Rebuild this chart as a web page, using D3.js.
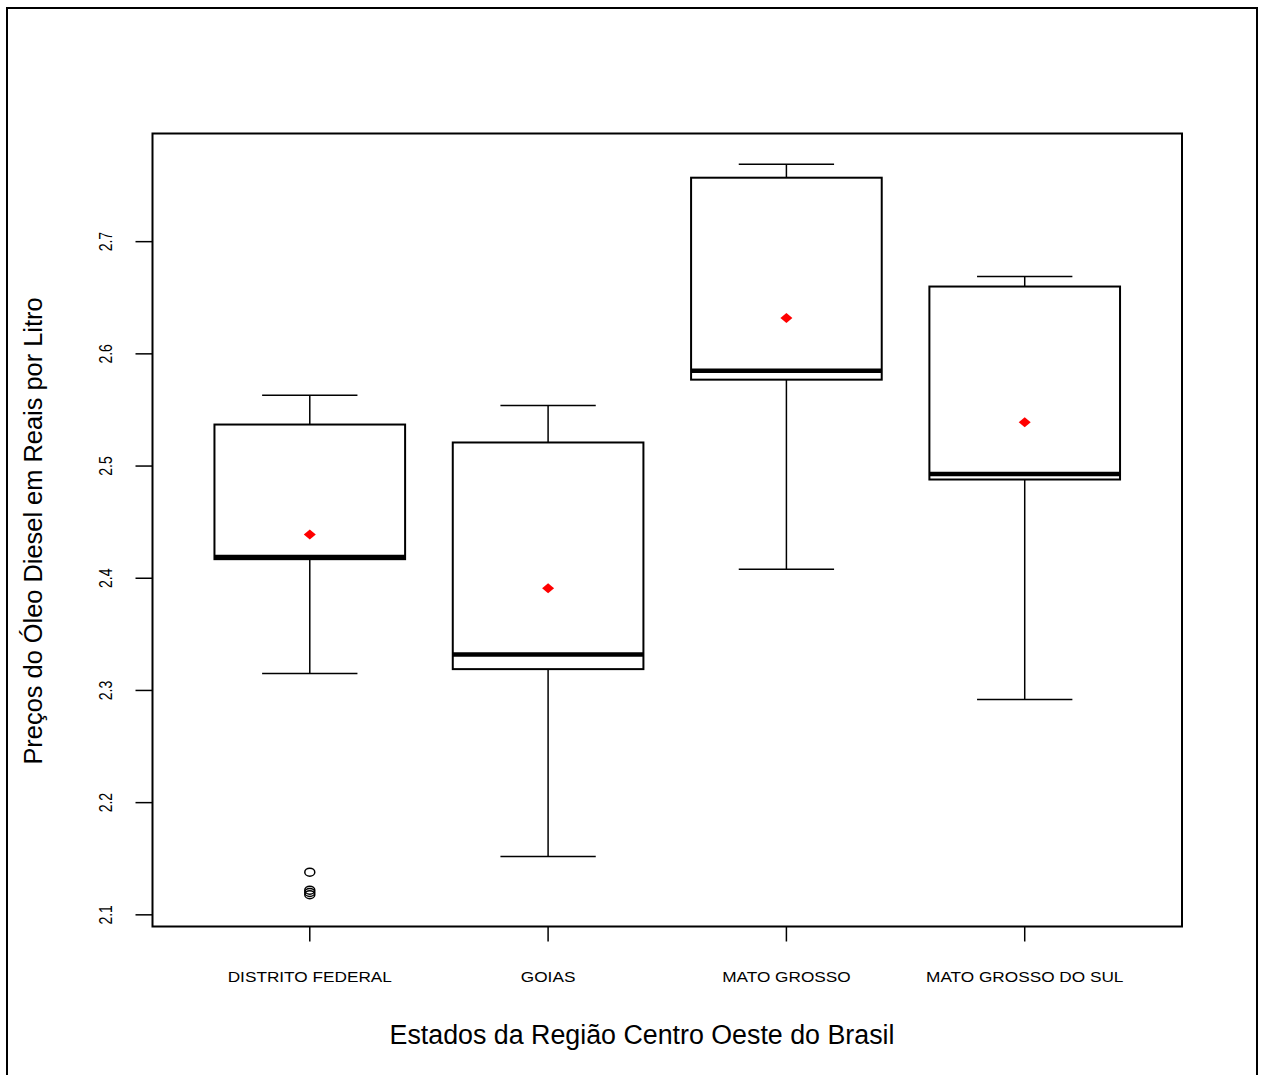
<!DOCTYPE html>
<html>
<head>
<meta charset="utf-8">
<script src="https://cdn.jsdelivr.net/npm/d3@7"></script>
<style>
  html, body { margin: 0; padding: 0; background: #fff; }
  svg { display: block; }
  text { font-family: "Liberation Sans", Arial, sans-serif; fill: #000; }
</style>
</head>
<body>
<script>
// Diesel price distribution per state (R$ per litre)
const categories = ["DISTRITO FEDERAL", "GOIAS", "MATO GROSSO", "MATO GROSSO DO SUL"];
const whiskerLow  = [2.315, 2.152, 2.408, 2.292];
const q1          = [2.417, 2.319, 2.577, 2.488];
const medians     = [2.419, 2.332, 2.585, 2.493];
const q3          = [2.537, 2.521, 2.757, 2.660];
const whiskerHigh = [2.563, 2.554, 2.769, 2.669];
const means       = [2.439, 2.391, 2.632, 2.539];
const outliers    = [[2.138, 2.122, 2.120, 2.118], [], [], []];
const yTicks      = [2.1, 2.2, 2.3, 2.4, 2.5, 2.6, 2.7];
const yTickLabels = ["2.1", "2.2", "2.3", "2.4", "2.5", "2.6", "2.7"];
const xTitle = "Estados da Região Centro Oeste do Brasil";
const yTitle = "Preços do Óleo Diesel em Reais por Litro";

const W = 1263, H = 1075;
const plot = { left: 152.5, right: 1182, top: 133.5, bottom: 926.5 };

const svg = d3.select("body").append("svg").attr("width", W).attr("height", H);

// outer figure frame
svg.append("rect")
  .attr("x", 7).attr("y", 8).attr("width", 1250).attr("height", 1080)
  .attr("fill", "none").attr("stroke", "#000").attr("stroke-width", 2);

const x = d3.scaleLinear().domain([0.34, 4.66]).range([plot.left, plot.right]);
const y = d3.scaleLinear().domain([2.0896, 2.7964]).range([plot.bottom, plot.top]);

const boxHalf = x(0.4) - x(0);
const capHalf = boxHalf / 2;

const rows = categories.map((c, i) => ({
  name: c, pos: i + 1,
  lo: whiskerLow[i], q1: q1[i], med: medians[i], q3: q3[i], hi: whiskerHigh[i],
  mean: means[i], out: outliers[i]
}));

const g = svg.append("g");

const box = g.selectAll("g.box").data(rows).join("g").attr("class", "box");

// whiskers
box.append("line")
  .attr("x1", d => x(d.pos)).attr("x2", d => x(d.pos))
  .attr("y1", d => y(d.q3)).attr("y2", d => y(d.hi))
  .attr("stroke", "#000").attr("stroke-width", 1.5);
box.append("line")
  .attr("x1", d => x(d.pos)).attr("x2", d => x(d.pos))
  .attr("y1", d => y(d.q1)).attr("y2", d => y(d.lo))
  .attr("stroke", "#000").attr("stroke-width", 1.5);
// staples
box.append("line")
  .attr("x1", d => x(d.pos) - capHalf).attr("x2", d => x(d.pos) + capHalf)
  .attr("y1", d => y(d.hi)).attr("y2", d => y(d.hi))
  .attr("stroke", "#000").attr("stroke-width", 1.5);
box.append("line")
  .attr("x1", d => x(d.pos) - capHalf).attr("x2", d => x(d.pos) + capHalf)
  .attr("y1", d => y(d.lo)).attr("y2", d => y(d.lo))
  .attr("stroke", "#000").attr("stroke-width", 1.5);
// boxes
box.append("rect")
  .attr("x", d => x(d.pos) - boxHalf).attr("width", 2 * boxHalf)
  .attr("y", d => y(d.q3)).attr("height", d => y(d.q1) - y(d.q3))
  .attr("fill", "none").attr("stroke", "#000").attr("stroke-width", 2);
// medians
box.append("line")
  .attr("x1", d => x(d.pos) - boxHalf).attr("x2", d => x(d.pos) + boxHalf)
  .attr("y1", d => y(d.med)).attr("y2", d => y(d.med))
  .attr("stroke", "#000").attr("stroke-width", 4.5);
// outliers
box.selectAll("ellipse").data(d => d.out.map(v => ({ pos: d.pos, v })))
  .join("ellipse")
  .attr("cx", d => x(d.pos)).attr("cy", d => y(d.v))
  .attr("rx", 5).attr("ry", 4)
  .attr("fill", "none").attr("stroke", "#000").attr("stroke-width", 1.5);
// means
box.append("path")
  .attr("d", d => {
    const cx = x(d.pos), cy = y(d.mean);
    return `M${cx - 6},${cy} L${cx},${cy - 5} L${cx + 6},${cy} L${cx},${cy + 5} Z`;
  })
  .attr("fill", "#ff0000");

// plot border
svg.append("rect")
  .attr("x", plot.left).attr("y", plot.top)
  .attr("width", plot.right - plot.left).attr("height", plot.bottom - plot.top)
  .attr("fill", "none").attr("stroke", "#000").attr("stroke-width", 2);

// y axis ticks and labels (glyphs drawn slightly wide, as on the device)
const yAxis = svg.append("g");
yAxis.selectAll("line").data(yTicks).join("line")
  .attr("x1", plot.left - 17).attr("x2", plot.left)
  .attr("y1", d => y(d)).attr("y2", d => y(d))
  .attr("stroke", "#000").attr("stroke-width", 1.5);
yAxis.selectAll("text").data(yTicks).join("text")
  .attr("transform", d => `translate(112,${y(d)}) scale(1.25,1) rotate(-90)`)
  .attr("text-anchor", "middle")
  .attr("font-size", 14)
  .text((d, i) => yTickLabels[i]);

// x axis ticks and labels
const xAxis = svg.append("g");
xAxis.selectAll("line").data(rows).join("line")
  .attr("x1", d => x(d.pos)).attr("x2", d => x(d.pos))
  .attr("y1", plot.bottom).attr("y2", plot.bottom + 15)
  .attr("stroke", "#000").attr("stroke-width", 1.5);
xAxis.selectAll("text").data(rows).join("text")
  .attr("transform", d => `translate(${x(d.pos)},982) scale(1.23,1)`)
  .attr("text-anchor", "middle")
  .attr("font-size", 14)
  .text(d => d.name);

// axis titles
svg.append("text")
  .attr("x", 642).attr("y", 1044)
  .attr("text-anchor", "middle")
  .attr("font-size", 26.8)
  .text(xTitle);
svg.append("text")
  .attr("transform", `translate(42,531) rotate(-90)`)
  .attr("text-anchor", "middle")
  .attr("font-size", 25.4)
  .text(yTitle);
</script>
</body>
</html>
